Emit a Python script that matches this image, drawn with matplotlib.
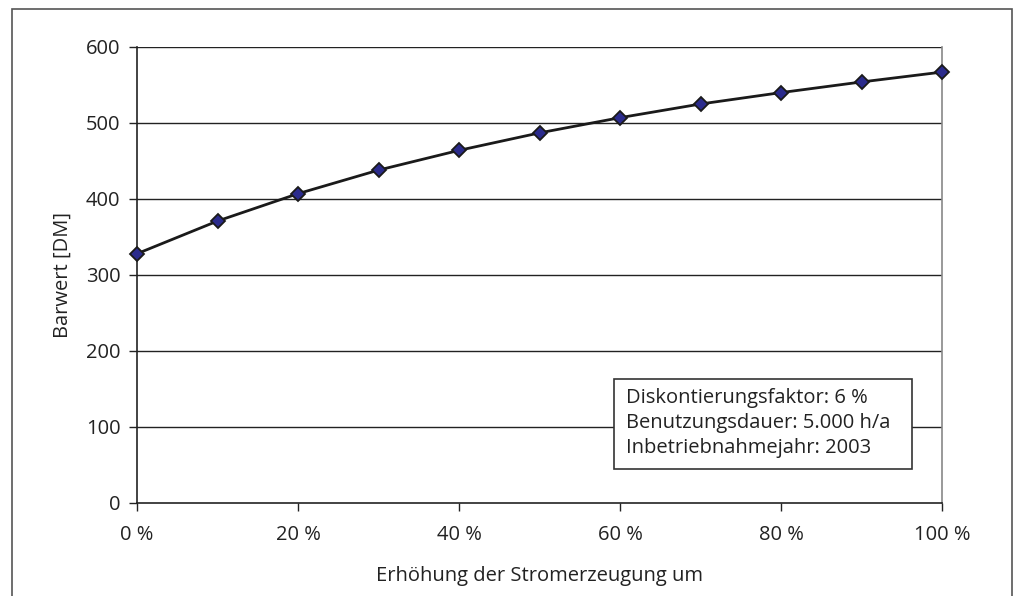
import matplotlib
matplotlib.use("Agg")
import matplotlib.pyplot as plt
from matplotlib.patches import Rectangle

x_pct = [0, 10, 20, 30, 40, 50, 60, 70, 80, 90, 100]
barwert = [328, 371, 407, 438, 464, 487, 507, 525, 540, 554, 567]
x_ticks = [0, 20, 40, 60, 80, 100]
x_ticklabels = ["0 %", "20 %", "40 %", "60 %", "80 %", "100 %"]
y_ticks = [0, 100, 200, 300, 400, 500, 600]
info_lines = ["Diskontierungsfaktor: 6 %", "Benutzungsdauer: 5.000 h/a", "Inbetriebnahmejahr: 2003"]

plt.rcParams['font.family'] = ['Open Sans', 'DejaVu Sans']
fs = 14.5
fig = plt.figure(figsize=(10.24, 5.96), dpi=100)
ax = fig.add_axes([137/1024, 1-503/596, (942-137)/1024, (503-47)/596])

for yv in y_ticks[1:]:
    ax.axhline(yv, color='#222222', lw=1.0, zorder=1)
ax.plot(x_pct, barwert, color='#1a1a1a', lw=2.0, marker='D', ms=7,
        markerfacecolor='#2b2b8c', markeredgecolor='#1a1a1a', markeredgewidth=1.3,
        zorder=3, clip_on=False)
ax.set_xlim(0, 100)
ax.set_ylim(0, 600)
ax.set_xticks(x_ticks)
ax.set_xticklabels(x_ticklabels)
ax.set_yticks(y_ticks)
ax.tick_params(axis='both', labelsize=fs, colors='#222222', length=6, width=1,
               direction='out')
ax.tick_params(axis='x', pad=10)
ax.tick_params(axis='y', pad=6)
for s in ['left', 'bottom']:
    ax.spines[s].set_color('#222222')
    ax.spines[s].set_linewidth(1.2)
ax.spines['top'].set_visible(False)
ax.spines['right'].set_color('#888888')
ax.spines['right'].set_linewidth(1.2)
ax.set_xlabel("Erhöhung der Stromerzeugung um", fontsize=fs, color='#222222', labelpad=15)
ax.set_ylabel("Barwert [DM]", fontsize=fs, color='#222222', labelpad=9)

# info box
bx0, by0, bx1, by1 = 614, 379, 912, 469
fig.patches.append(Rectangle((bx0/1024, 1-by1/596), (bx1-bx0)/1024, (by1-by0)/596,
                             transform=fig.transFigure, facecolor='white',
                             edgecolor='#333333', lw=1.2, zorder=5))
for i, t in enumerate(info_lines):
    fig.text(626/1024, 1-(398+25*i)/596, t, fontsize=fs, color='#222222',
             va='center', ha='left', zorder=6)

# outer frame
fig.patches.append(Rectangle((12/1024, -0.05), (1012-12)/1024, 1-9/596+0.05,
                             transform=fig.transFigure, fill=False,
                             edgecolor='#555555', lw=1.2))

fig.savefig("out.png", dpi=100)
